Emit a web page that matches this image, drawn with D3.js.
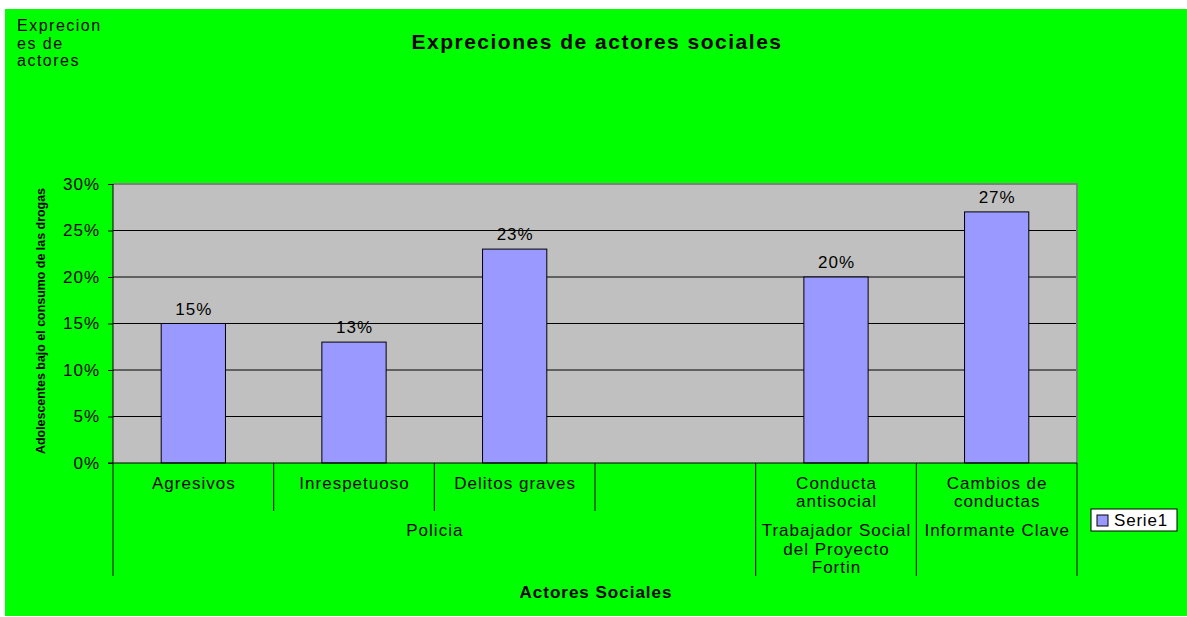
<!DOCTYPE html>
<html><head><meta charset="utf-8">
<script src="https://cdn.jsdelivr.net/npm/d3@7"></script>
<style>body{margin:0;background:#fff}svg{display:block;font-family:"Liberation Sans",Arial,sans-serif}</style>
</head><body>
<svg id="c" width="1187" height="617"></svg>
<script>
const categories = [["Agresivos"],["Inrespetuoso"],["Delitos graves"],[""],["Conducta","antisocial"],["Cambios de","conductas"]];
const values = [0.15, 0.13, 0.23, null, 0.20, 0.27];
const groups = [
  {label:["Policia"], start:0, end:4},
  {label:["Trabajador Social","del Proyecto","Fortin"], start:4, end:5},
  {label:["Informante Clave"], start:5, end:6}
];
const yTicks = [0,0.05,0.10,0.15,0.20,0.25,0.30];
const seriesName = "Serie1";

const FS = 17, LS = 1.0;
const svg = d3.select("#c");
svg.append("rect").attr("x",5).attr("y",9).attr("width",1182).attr("height",607).attr("fill","#00FF00");

const L=113,R=1077,T=184,B=463;
const x = d3.scaleBand().domain(d3.range(categories.length)).range([L,R]).paddingInner(0).paddingOuter(0);
const y = d3.scaleLinear().domain([0,0.30]).range([B,T]);

svg.append("rect").attr("x",L).attr("y",T).attr("width",R-L).attr("height",B-T).attr("fill","#C0C0C0");
svg.append("g").selectAll("line").data(yTicks.slice(1)).join("line")
  .attr("x1",L).attr("x2",R).attr("y1",d=>y(d)).attr("y2",d=>y(d)).attr("stroke","#000").attr("stroke-width",1);
svg.append("path").attr("d",`M${L},${T}H${R}V${B}`).attr("fill","none").attr("stroke","#808080").attr("stroke-width",2);

const bw = x.bandwidth()*0.4;
const bars = categories.map((c,i)=>({i,v:values[i]})).filter(d=>d.v!=null);
svg.append("g").selectAll("rect").data(bars).join("rect")
  .attr("x",d=>x(d.i)+x.bandwidth()/2-bw/2).attr("width",bw)
  .attr("y",d=>y(d.v)).attr("height",d=>B-y(d.v))
  .attr("fill","#9999FF").attr("stroke","#000").attr("stroke-width",1);
svg.append("g").selectAll("text").data(bars).join("text")
  .attr("x",d=>x(d.i)+x.bandwidth()/2+LS/2).attr("y",d=>y(d.v)-9)
  .attr("text-anchor","middle").attr("font-size",FS).attr("letter-spacing",LS).text(d=>Math.round(d.v*100)+"%");

const yAxis = d3.axisLeft(y).tickValues(yTicks).tickFormat(d=>Math.round(d*100)+"%").tickSize(5).tickPadding(8);
const ya = svg.append("g").attr("transform",`translate(${L},0)`).call(yAxis);
ya.select(".domain").attr("stroke","#000").attr("d",`M0,${T}V${B}`);
ya.selectAll(".tick line").attr("stroke","#000");
ya.selectAll("text").attr("font-size",FS).attr("letter-spacing",LS).attr("font-family","Liberation Sans, Arial, sans-serif").attr("fill","#000");

svg.append("line").attr("x1",L-5).attr("x2",R).attr("y1",B).attr("y2",B).attr("stroke","#000");
const bounds = d3.range(categories.length+1).map(i=> i<categories.length? x(i): R);
const groupBounds = new Set(groups.flatMap(g=>[g.start,g.end]));
svg.append("g").selectAll("line").data(bounds.map((b,i)=>({b,i}))).join("line")
  .attr("x1",d=>d.b).attr("x2",d=>d.b).attr("y1",B)
  .attr("y2",d=>groupBounds.has(d.i)?576:511).attr("stroke","#000");
const cl = svg.append("g").selectAll("text").data(categories.map((c,i)=>({c,i}))).join("text")
  .attr("text-anchor","middle").attr("font-size",FS).attr("letter-spacing",LS);
cl.each(function(d){
  d3.select(this).selectAll("tspan").data(d.c).join("tspan")
    .attr("x",x(d.i)+x.bandwidth()/2+LS/2).attr("y",(t,j)=>489+j*18).text(t=>t);
});
const gl = svg.append("g").selectAll("text").data(groups).join("text")
  .attr("text-anchor","middle").attr("font-size",FS).attr("letter-spacing",LS);
gl.each(function(g){
  const cx = (bounds[g.start]+bounds[g.end])/2;
  d3.select(this).selectAll("tspan").data(g.label).join("tspan")
    .attr("x",cx+LS/2).attr("y",(t,j)=>536+j*18.5).text(t=>t);
});

svg.append("text").attr("x",597).attr("y",49).attr("text-anchor","middle").attr("font-size",21).attr("letter-spacing",1.5).attr("font-weight","bold").text("Expreciones de actores sociales");
svg.append("text").attr("x",596).attr("y",598).attr("text-anchor","middle").attr("font-size",FS).attr("letter-spacing",LS).attr("font-weight","bold").text("Actores Sociales");
svg.append("text").attr("transform","translate(45,321) rotate(-90)").attr("text-anchor","middle")
  .attr("font-size",12).attr("font-weight","bold").attr("textLength",266).attr("lengthAdjust","spacingAndGlyphs")
  .text("Adolescentes bajo el consumo de las drogas");
const tl = svg.append("text").attr("font-size",16).attr("letter-spacing",1.5);
tl.selectAll("tspan").data(["Exprecion","es de","actores"]).join("tspan").attr("x",17).attr("y",(t,j)=>31+j*17.5).text(t=>t);

const lg = svg.append("g");
lg.append("rect").attr("x",1091).attr("y",509).attr("width",86).attr("height",22).attr("fill","#fff").attr("stroke","#000");
lg.append("rect").attr("x",1097).attr("y",515).attr("width",11).attr("height",11).attr("fill","#9999FF").attr("stroke","#000");
lg.append("text").attr("x",1114).attr("y",526).attr("font-size",FS).attr("letter-spacing",0.8).text(seriesName);
</script>
</body></html>
